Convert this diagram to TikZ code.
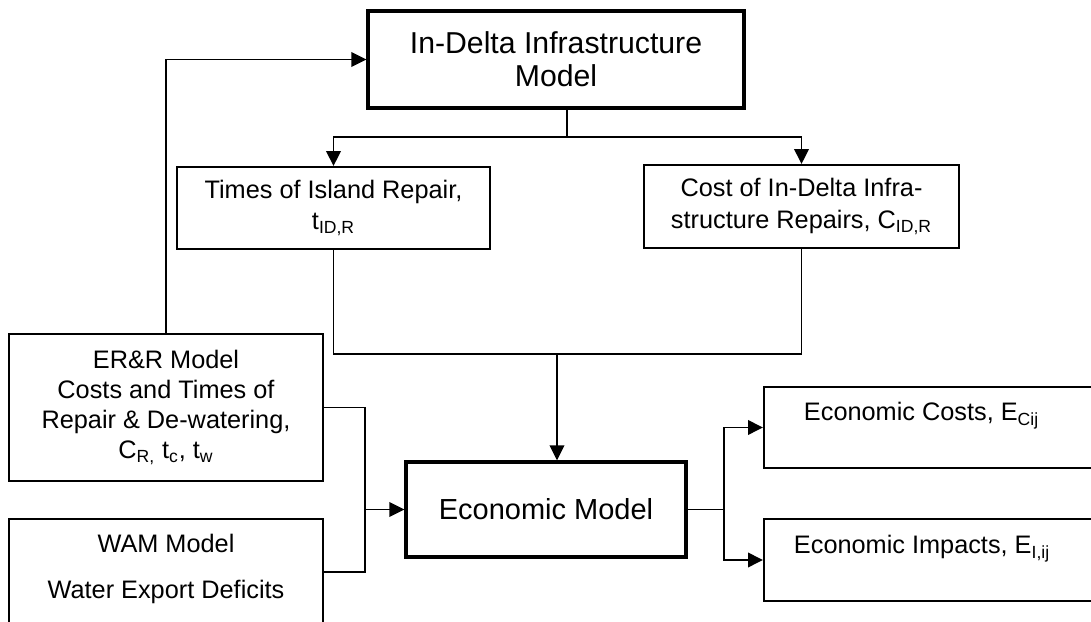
\documentclass[tikz,border=0pt]{standalone}
\usepackage{fontspec}
\setmainfont{Liberation Sans}
\usetikzlibrary{arrows.meta}
\begin{document}
\begin{tikzpicture}[
    box/.style={draw, line width=1.1pt, align=center, inner sep=0pt,
        font=\fontsize{14.4}{17.8}\selectfont},
    mainbox/.style={box, line width=1.9pt},
    arr/.style={-{Triangle[length=0.3cm, width=0.29cm]}},
    line width=1.1pt]
        \useasboundingbox (0,0) rectangle (21.82,12.44);
        \clip (0,0) rectangle (21.82,12.44);
        \node [mainbox, minimum width=7.52cm, minimum height=1.94cm,
            font=\fontsize{17.2}{18.8}\selectfont] (infra) at (11.12, 11.25)
            {In-Delta Infrastructure\\Model};
        \node [box, minimum width=6.26cm, minimum height=1.64cm] (times) at (6.67, 8.28)
            {Times of Island Repair,\\t\textsubscript{ID,R}};
        \node [box, minimum width=6.3cm, minimum height=1.66cm] (cost) at (16.03, 8.31)
            {Cost of In-Delta Infra-\\structure Repairs, C\textsubscript{ID,R}};
        \node [box, minimum width=6.28cm, minimum height=2.94cm, font=\fontsize{14.4}{17}\selectfont] (err) at (3.32, 4.29)
            {ER\&R Model\\Costs and Times of\\Repair \& De-watering,\\C\textsubscript{R,} t\textsubscript{c}, t\textsubscript{w}};
        \node [box, minimum width=6.28cm, minimum height=2.8cm, anchor=north] (wam) at (3.32, 2.08) {};
        \node [align=center, font=\fontsize{14.4}{17}\selectfont] (wamtxt) at (3.32, 1.06)
            {WAM Model\\[9pt]Water Export Deficits};
        \node [mainbox, minimum width=5.6cm, minimum height=1.9cm,
            font=\fontsize{16.5}{19}\selectfont] (econ) at (10.92, 2.25) {Economic Model};
        \node [box, minimum width=7.2cm, minimum height=1.62cm, anchor=west] (ecost) at (15.26, 3.89) {};
        \node [box, minimum width=7.2cm, minimum height=1.64cm, anchor=west] (eimp) at (15.26, 1.24) {};
        \node [anchor=base west, inner sep=0pt, font=\fontsize{14.4}{17}\selectfont] (ecosttxt) at (16.06, 4.02)
            {Economic Costs, E\textsubscript{Cij}};
        \node [anchor=base west, inner sep=0pt, font=\fontsize{14.4}{17}\selectfont] (eimptxt) at (15.86, 1.36)
            {Economic Impacts, E\textsubscript{I,ij}};
        \coordinate (split) at (11.34, 9.70);
        \coordinate (merge) at (11.14, 5.36);
        \coordinate (join) at (7.30, 2.25);
        \coordinate (wamout) at (6.46, 1.00);
        \coordinate (fork) at (14.48, 2.25);
        \draw (split |- infra.south) -- (split);
        \draw [arr] (split) -| (times.north);
        \draw [arr] (split) -| (cost.north);
        \draw [arr] (err.north) |- (infra.west);
        \draw (times.south) |- (merge);
        \draw (cost.south) |- (merge);
        \draw [arr] (merge) -- (merge |- econ.north);
        \draw (err.east) -| (join);
        \draw (wamout) -| (join);
        \draw [arr] (join) -- (econ.west);
        \draw (econ.east) -- (fork);
        \draw [arr] (fork) |- (ecost.west);
        \draw [arr] (fork) |- (eimp.west);
    \end{tikzpicture}
\end{document}
